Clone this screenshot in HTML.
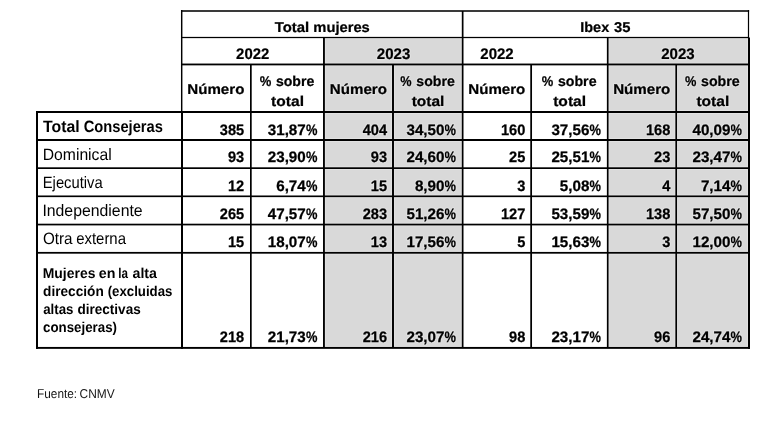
<!DOCTYPE html>
<html><head><meta charset="utf-8"><title>Tabla</title>
<style>
html,body{margin:0;padding:0;background:#fff;}
body{width:775px;height:421px;overflow:hidden;}
svg{display:block;font-family:"Liberation Sans",sans-serif;will-change:transform;text-rendering:geometricPrecision;}
</style></head><body>
<svg width="775" height="421" viewBox="0 0 775 421">
<rect width="775" height="421" fill="#fff"/>
<rect x="323.95" y="37.50" width="138.70" height="310.40" fill="#d9d9d9"/>
<rect x="324.88" y="37.50" width="1.00" height="310.40" fill="#e1e1e1"/>
<rect x="391.02" y="64.45" width="1.00" height="283.45" fill="#e1e1e1"/>
<rect x="393.98" y="64.45" width="1.00" height="283.45" fill="#e1e1e1"/>
<rect x="460.80" y="37.50" width="1.00" height="310.40" fill="#e1e1e1"/>
<rect x="323.95" y="38.12" width="138.70" height="1.00" fill="#e1e1e1"/>
<rect x="323.95" y="62.55" width="138.70" height="1.00" fill="#e1e1e1"/>
<rect x="323.95" y="65.35" width="138.70" height="1.00" fill="#e1e1e1"/>
<rect x="323.95" y="110.00" width="138.70" height="1.00" fill="#e1e1e1"/>
<rect x="323.95" y="113.00" width="138.70" height="1.00" fill="#e1e1e1"/>
<rect x="323.95" y="138.00" width="138.70" height="1.00" fill="#e1e1e1"/>
<rect x="323.95" y="141.00" width="138.70" height="1.00" fill="#e1e1e1"/>
<rect x="323.95" y="166.30" width="138.70" height="1.00" fill="#e1e1e1"/>
<rect x="323.95" y="169.00" width="138.70" height="1.00" fill="#e1e1e1"/>
<rect x="323.95" y="194.48" width="138.70" height="1.00" fill="#e1e1e1"/>
<rect x="323.95" y="197.12" width="138.70" height="1.00" fill="#e1e1e1"/>
<rect x="323.95" y="222.70" width="138.70" height="1.00" fill="#e1e1e1"/>
<rect x="323.95" y="225.40" width="138.70" height="1.00" fill="#e1e1e1"/>
<rect x="323.95" y="250.93" width="138.70" height="1.00" fill="#e1e1e1"/>
<rect x="323.95" y="253.68" width="138.70" height="1.00" fill="#e1e1e1"/>
<rect x="323.95" y="345.95" width="138.70" height="1.00" fill="#e1e1e1"/>
<rect x="607.70" y="37.50" width="141.30" height="310.40" fill="#d9d9d9"/>
<rect x="608.53" y="37.50" width="1.00" height="310.40" fill="#e1e1e1"/>
<rect x="674.38" y="64.45" width="1.00" height="283.45" fill="#e1e1e1"/>
<rect x="677.03" y="64.45" width="1.00" height="283.45" fill="#e1e1e1"/>
<rect x="747.00" y="37.50" width="1.00" height="310.40" fill="#e1e1e1"/>
<rect x="607.70" y="38.12" width="141.30" height="1.00" fill="#e1e1e1"/>
<rect x="607.70" y="62.55" width="141.30" height="1.00" fill="#e1e1e1"/>
<rect x="607.70" y="65.35" width="141.30" height="1.00" fill="#e1e1e1"/>
<rect x="607.70" y="110.00" width="141.30" height="1.00" fill="#e1e1e1"/>
<rect x="607.70" y="113.00" width="141.30" height="1.00" fill="#e1e1e1"/>
<rect x="607.70" y="138.00" width="141.30" height="1.00" fill="#e1e1e1"/>
<rect x="607.70" y="141.00" width="141.30" height="1.00" fill="#e1e1e1"/>
<rect x="607.70" y="166.30" width="141.30" height="1.00" fill="#e1e1e1"/>
<rect x="607.70" y="169.00" width="141.30" height="1.00" fill="#e1e1e1"/>
<rect x="607.70" y="194.48" width="141.30" height="1.00" fill="#e1e1e1"/>
<rect x="607.70" y="197.12" width="141.30" height="1.00" fill="#e1e1e1"/>
<rect x="607.70" y="222.70" width="141.30" height="1.00" fill="#e1e1e1"/>
<rect x="607.70" y="225.40" width="141.30" height="1.00" fill="#e1e1e1"/>
<rect x="607.70" y="250.93" width="141.30" height="1.00" fill="#e1e1e1"/>
<rect x="607.70" y="253.68" width="141.30" height="1.00" fill="#e1e1e1"/>
<rect x="607.70" y="345.95" width="141.30" height="1.00" fill="#e1e1e1"/>
<rect x="181.00" y="10.00" width="568.10" height="2.00" fill="#3a3a3a"/>
<rect x="182.00" y="36.88" width="567.00" height="1.25" fill="#000"/>
<rect x="182.00" y="63.55" width="567.00" height="1.80" fill="#000"/>
<rect x="36.00" y="111.00" width="714.00" height="2.00" fill="#000"/>
<rect x="36.00" y="139.00" width="714.00" height="2.00" fill="#000"/>
<rect x="36.00" y="167.30" width="714.00" height="1.70" fill="#000"/>
<rect x="36.00" y="195.48" width="714.00" height="1.65" fill="#000"/>
<rect x="36.00" y="223.70" width="714.00" height="1.70" fill="#000"/>
<rect x="36.00" y="251.93" width="714.00" height="1.75" fill="#000"/>
<rect x="36.00" y="346.95" width="714.00" height="1.90" fill="#000"/>
<rect x="36.00" y="111.00" width="2.00" height="237.85" fill="#000"/>
<rect x="180.97" y="10.00" width="1.45" height="102.00" fill="#000"/>
<rect x="181.00" y="112.00" width="2.00" height="236.85" fill="#000"/>
<rect x="461.80" y="11.00" width="1.70" height="336.90" fill="#000"/>
<rect x="747.90" y="10.00" width="1.20" height="27.50" fill="#000"/>
<rect x="748.00" y="37.50" width="2.00" height="311.35" fill="#000"/>
<rect x="323.02" y="37.50" width="1.85" height="310.40" fill="#000"/>
<rect x="606.88" y="37.50" width="1.65" height="310.40" fill="#000"/>
<rect x="250.00" y="64.45" width="1.70" height="283.45" fill="#000"/>
<rect x="392.02" y="64.45" width="1.95" height="283.45" fill="#000"/>
<rect x="530.27" y="64.45" width="1.75" height="283.45" fill="#000"/>
<rect x="675.38" y="64.45" width="1.65" height="283.45" fill="#000"/>
<text x="274.69" y="31.70" font-size="14.2" font-weight="bold" text-anchor="start" fill="#000" textLength="34.47" lengthAdjust="spacingAndGlyphs" stroke="#000" stroke-width="0.22">Total</text>
<text x="313.33" y="31.70" font-size="14.2" font-weight="bold" text-anchor="start" fill="#000" textLength="56.48" lengthAdjust="spacingAndGlyphs" stroke="#000" stroke-width="0.22">mujeres</text>
<text x="580.28" y="31.80" font-size="14.2" font-weight="bold" text-anchor="start" fill="#000" textLength="28.92" lengthAdjust="spacingAndGlyphs" stroke="#000" stroke-width="0.22">Ibex</text>
<text x="614.05" y="31.80" font-size="14.2" font-weight="bold" text-anchor="start" fill="#000" textLength="16.40" lengthAdjust="spacingAndGlyphs" stroke="#000" stroke-width="0.22">35</text>
<text x="236.11" y="58.90" font-size="15.4" font-weight="bold" text-anchor="start" fill="#000" textLength="33.11" lengthAdjust="spacingAndGlyphs" stroke="#000" stroke-width="0.22">2022</text>
<text x="376.84" y="58.90" font-size="15.4" font-weight="bold" text-anchor="start" fill="#e1e1e1" stroke="#e1e1e1" stroke-width="2.4" stroke-linejoin="round" textLength="33.47" lengthAdjust="spacingAndGlyphs">2023</text>
<text x="376.84" y="58.90" font-size="15.4" font-weight="bold" text-anchor="start" fill="#000" textLength="33.47" lengthAdjust="spacingAndGlyphs" stroke="#000" stroke-width="0.22">2023</text>
<text x="480.32" y="58.90" font-size="15.4" font-weight="bold" text-anchor="start" fill="#000" textLength="33.41" lengthAdjust="spacingAndGlyphs" stroke="#000" stroke-width="0.22">2022</text>
<text x="661.22" y="58.90" font-size="15.4" font-weight="bold" text-anchor="start" fill="#e1e1e1" stroke="#e1e1e1" stroke-width="2.4" stroke-linejoin="round" textLength="33.47" lengthAdjust="spacingAndGlyphs">2023</text>
<text x="661.22" y="58.90" font-size="15.4" font-weight="bold" text-anchor="start" fill="#000" textLength="33.47" lengthAdjust="spacingAndGlyphs" stroke="#000" stroke-width="0.22">2023</text>
<text x="187.35" y="93.90" font-size="14.2" font-weight="bold" text-anchor="start" fill="#000" textLength="57.01" lengthAdjust="spacingAndGlyphs" stroke="#000" stroke-width="0.22">Número</text>
<text x="259.77" y="86.00" font-size="14.2" font-weight="bold" text-anchor="start" fill="#000" textLength="11.58" lengthAdjust="spacingAndGlyphs" stroke="#000" stroke-width="0.22">%</text>
<text x="275.89" y="86.00" font-size="14.2" font-weight="bold" text-anchor="start" fill="#000" textLength="38.46" lengthAdjust="spacingAndGlyphs" stroke="#000" stroke-width="0.22">sobre</text>
<text x="271.14" y="106.40" font-size="14.2" font-weight="bold" text-anchor="start" fill="#000" textLength="32.83" lengthAdjust="spacingAndGlyphs" stroke="#000" stroke-width="0.22">total</text>
<text x="329.88" y="93.90" font-size="14.2" font-weight="bold" text-anchor="start" fill="#e1e1e1" stroke="#e1e1e1" stroke-width="2.4" stroke-linejoin="round" textLength="57.08" lengthAdjust="spacingAndGlyphs">Número</text>
<text x="329.88" y="93.90" font-size="14.2" font-weight="bold" text-anchor="start" fill="#000" textLength="57.08" lengthAdjust="spacingAndGlyphs" stroke="#000" stroke-width="0.22">Número</text>
<text x="400.26" y="86.00" font-size="14.2" font-weight="bold" text-anchor="start" fill="#e1e1e1" stroke="#e1e1e1" stroke-width="2.4" stroke-linejoin="round" textLength="11.33" lengthAdjust="spacingAndGlyphs">%</text>
<text x="400.26" y="86.00" font-size="14.2" font-weight="bold" text-anchor="start" fill="#000" textLength="11.33" lengthAdjust="spacingAndGlyphs" stroke="#000" stroke-width="0.22">%</text>
<text x="416.31" y="86.00" font-size="14.2" font-weight="bold" text-anchor="start" fill="#e1e1e1" stroke="#e1e1e1" stroke-width="2.4" stroke-linejoin="round" textLength="38.45" lengthAdjust="spacingAndGlyphs">sobre</text>
<text x="416.31" y="86.00" font-size="14.2" font-weight="bold" text-anchor="start" fill="#000" textLength="38.45" lengthAdjust="spacingAndGlyphs" stroke="#000" stroke-width="0.22">sobre</text>
<text x="411.71" y="106.40" font-size="14.2" font-weight="bold" text-anchor="start" fill="#e1e1e1" stroke="#e1e1e1" stroke-width="2.4" stroke-linejoin="round" textLength="32.71" lengthAdjust="spacingAndGlyphs">total</text>
<text x="411.71" y="106.40" font-size="14.2" font-weight="bold" text-anchor="start" fill="#000" textLength="32.71" lengthAdjust="spacingAndGlyphs" stroke="#000" stroke-width="0.22">total</text>
<text x="468.32" y="93.90" font-size="14.2" font-weight="bold" text-anchor="start" fill="#000" textLength="57.02" lengthAdjust="spacingAndGlyphs" stroke="#000" stroke-width="0.22">Número</text>
<text x="541.76" y="86.00" font-size="14.2" font-weight="bold" text-anchor="start" fill="#000" textLength="11.50" lengthAdjust="spacingAndGlyphs" stroke="#000" stroke-width="0.22">%</text>
<text x="557.91" y="86.00" font-size="14.2" font-weight="bold" text-anchor="start" fill="#000" textLength="38.61" lengthAdjust="spacingAndGlyphs" stroke="#000" stroke-width="0.22">sobre</text>
<text x="553.17" y="106.40" font-size="14.2" font-weight="bold" text-anchor="start" fill="#000" textLength="32.94" lengthAdjust="spacingAndGlyphs" stroke="#000" stroke-width="0.22">total</text>
<text x="613.15" y="93.90" font-size="14.2" font-weight="bold" text-anchor="start" fill="#e1e1e1" stroke="#e1e1e1" stroke-width="2.4" stroke-linejoin="round" textLength="57.23" lengthAdjust="spacingAndGlyphs">Número</text>
<text x="613.15" y="93.90" font-size="14.2" font-weight="bold" text-anchor="start" fill="#000" textLength="57.23" lengthAdjust="spacingAndGlyphs" stroke="#000" stroke-width="0.22">Número</text>
<text x="684.94" y="86.00" font-size="14.2" font-weight="bold" text-anchor="start" fill="#e1e1e1" stroke="#e1e1e1" stroke-width="2.4" stroke-linejoin="round" textLength="11.39" lengthAdjust="spacingAndGlyphs">%</text>
<text x="684.94" y="86.00" font-size="14.2" font-weight="bold" text-anchor="start" fill="#000" textLength="11.39" lengthAdjust="spacingAndGlyphs" stroke="#000" stroke-width="0.22">%</text>
<text x="701.00" y="86.00" font-size="14.2" font-weight="bold" text-anchor="start" fill="#e1e1e1" stroke="#e1e1e1" stroke-width="2.4" stroke-linejoin="round" textLength="38.73" lengthAdjust="spacingAndGlyphs">sobre</text>
<text x="701.00" y="86.00" font-size="14.2" font-weight="bold" text-anchor="start" fill="#000" textLength="38.73" lengthAdjust="spacingAndGlyphs" stroke="#000" stroke-width="0.22">sobre</text>
<text x="696.45" y="106.40" font-size="14.2" font-weight="bold" text-anchor="start" fill="#e1e1e1" stroke="#e1e1e1" stroke-width="2.4" stroke-linejoin="round" textLength="32.83" lengthAdjust="spacingAndGlyphs">total</text>
<text x="696.45" y="106.40" font-size="14.2" font-weight="bold" text-anchor="start" fill="#000" textLength="32.83" lengthAdjust="spacingAndGlyphs" stroke="#000" stroke-width="0.22">total</text>
<text x="43.11" y="131.90" font-size="16.4" font-weight="bold" text-anchor="start" fill="#000" textLength="36.61" lengthAdjust="spacingAndGlyphs">Total</text>
<text x="83.69" y="131.90" font-size="16.4" font-weight="bold" text-anchor="start" fill="#000" textLength="79.22" lengthAdjust="spacingAndGlyphs">Consejeras</text>
<text x="42.71" y="160.00" font-size="16.5" font-weight="normal" text-anchor="start" fill="#000" textLength="69.00" lengthAdjust="spacingAndGlyphs">Dominical</text>
<text x="42.78" y="188.20" font-size="16.5" font-weight="normal" text-anchor="start" fill="#000" textLength="59.92" lengthAdjust="spacingAndGlyphs">Ejecutiva</text>
<text x="42.39" y="216.10" font-size="16.5" font-weight="normal" text-anchor="start" fill="#000" textLength="100.29" lengthAdjust="spacingAndGlyphs">Independiente</text>
<text x="42.96" y="244.20" font-size="16.5" font-weight="normal" text-anchor="start" fill="#000" textLength="29.60" lengthAdjust="spacingAndGlyphs">Otra</text>
<text x="76.17" y="244.20" font-size="16.5" font-weight="normal" text-anchor="start" fill="#000" textLength="49.83" lengthAdjust="spacingAndGlyphs">externa</text>
<text x="42.74" y="277.80" font-size="14.3" font-weight="bold" text-anchor="start" fill="#000" textLength="52.70" lengthAdjust="spacingAndGlyphs">Mujeres</text>
<text x="98.74" y="277.80" font-size="14.3" font-weight="bold" text-anchor="start" fill="#000" textLength="16.66" lengthAdjust="spacingAndGlyphs">en</text>
<text x="118.34" y="277.80" font-size="14.3" font-weight="bold" text-anchor="start" fill="#000" textLength="9.72" lengthAdjust="spacingAndGlyphs">la</text>
<text x="132.51" y="277.80" font-size="14.3" font-weight="bold" text-anchor="start" fill="#000" textLength="24.45" lengthAdjust="spacingAndGlyphs">alta</text>
<text x="43.09" y="295.80" font-size="14.3" font-weight="bold" text-anchor="start" fill="#000" textLength="60.66" lengthAdjust="spacingAndGlyphs">dirección</text>
<text x="107.65" y="295.80" font-size="14.3" font-weight="bold" text-anchor="start" fill="#000" textLength="64.74" lengthAdjust="spacingAndGlyphs">(excluidas</text>
<text x="43.19" y="313.90" font-size="14.3" font-weight="bold" text-anchor="start" fill="#000" textLength="30.31" lengthAdjust="spacingAndGlyphs">altas</text>
<text x="77.44" y="313.90" font-size="14.3" font-weight="bold" text-anchor="start" fill="#000" textLength="63.29" lengthAdjust="spacingAndGlyphs">directivas</text>
<text x="43.06" y="332.00" font-size="14.3" font-weight="bold" text-anchor="start" fill="#000" textLength="73.96" lengthAdjust="spacingAndGlyphs">consejeras)</text>
<text x="37.04" y="398.10" font-size="12.9" font-weight="normal" text-anchor="start" fill="#151515" textLength="40.05" lengthAdjust="spacingAndGlyphs">Fuente:</text>
<text x="79.56" y="398.10" font-size="12.9" font-weight="normal" text-anchor="start" fill="#151515" textLength="35.07" lengthAdjust="spacingAndGlyphs">CNMV</text>
<text transform="translate(244.20 134.50) scale(0.9620 1)" font-size="15.2" font-weight="bold" text-anchor="end" stroke="#000" stroke-width="0.25">385</text>
<text transform="translate(317.35 134.50) scale(0.8466 1)" font-size="15.2" font-weight="bold" text-anchor="end" stroke="#000" stroke-width="0.25">%</text>
<text transform="translate(305.76 134.50) scale(1.0000 1)" font-size="15.2" font-weight="bold" text-anchor="end" stroke="#000" stroke-width="0.25">31,87</text>
<text transform="translate(387.10 134.50) scale(0.9620 1)" font-size="15.2" font-weight="bold" text-anchor="end" fill="#e1e1e1" stroke="#e1e1e1" stroke-width="2.4" stroke-linejoin="round">404</text>
<text transform="translate(387.10 134.50) scale(0.9620 1)" font-size="15.2" font-weight="bold" text-anchor="end" stroke="#000" stroke-width="0.25">404</text>
<text transform="translate(456.05 134.50) scale(0.8466 1)" font-size="15.2" font-weight="bold" text-anchor="end" fill="#e1e1e1" stroke="#e1e1e1" stroke-width="2.4" stroke-linejoin="round">%</text>
<text transform="translate(456.05 134.50) scale(0.8466 1)" font-size="15.2" font-weight="bold" text-anchor="end" stroke="#000" stroke-width="0.25">%</text>
<text transform="translate(444.46 134.50) scale(1.0000 1)" font-size="15.2" font-weight="bold" text-anchor="end" fill="#e1e1e1" stroke="#e1e1e1" stroke-width="2.4" stroke-linejoin="round">34,50</text>
<text transform="translate(444.46 134.50) scale(1.0000 1)" font-size="15.2" font-weight="bold" text-anchor="end" stroke="#000" stroke-width="0.25">34,50</text>
<text transform="translate(525.35 134.50) scale(0.9620 1)" font-size="15.2" font-weight="bold" text-anchor="end" stroke="#000" stroke-width="0.25">160</text>
<text transform="translate(601.00 134.50) scale(0.8466 1)" font-size="15.2" font-weight="bold" text-anchor="end" stroke="#000" stroke-width="0.25">%</text>
<text transform="translate(589.41 134.50) scale(1.0000 1)" font-size="15.2" font-weight="bold" text-anchor="end" stroke="#000" stroke-width="0.25">37,56</text>
<text transform="translate(670.35 134.50) scale(0.9620 1)" font-size="15.2" font-weight="bold" text-anchor="end" fill="#e1e1e1" stroke="#e1e1e1" stroke-width="2.4" stroke-linejoin="round">168</text>
<text transform="translate(670.35 134.50) scale(0.9620 1)" font-size="15.2" font-weight="bold" text-anchor="end" stroke="#000" stroke-width="0.25">168</text>
<text transform="translate(742.05 134.50) scale(0.8466 1)" font-size="15.2" font-weight="bold" text-anchor="end" fill="#e1e1e1" stroke="#e1e1e1" stroke-width="2.4" stroke-linejoin="round">%</text>
<text transform="translate(742.05 134.50) scale(0.8466 1)" font-size="15.2" font-weight="bold" text-anchor="end" stroke="#000" stroke-width="0.25">%</text>
<text transform="translate(730.46 134.50) scale(1.0000 1)" font-size="15.2" font-weight="bold" text-anchor="end" fill="#e1e1e1" stroke="#e1e1e1" stroke-width="2.4" stroke-linejoin="round">40,09</text>
<text transform="translate(730.46 134.50) scale(1.0000 1)" font-size="15.2" font-weight="bold" text-anchor="end" stroke="#000" stroke-width="0.25">40,09</text>
<text transform="translate(244.20 162.20) scale(0.9620 1)" font-size="15.2" font-weight="bold" text-anchor="end" stroke="#000" stroke-width="0.25">93</text>
<text transform="translate(317.35 162.20) scale(0.8466 1)" font-size="15.2" font-weight="bold" text-anchor="end" stroke="#000" stroke-width="0.25">%</text>
<text transform="translate(305.76 162.20) scale(1.0000 1)" font-size="15.2" font-weight="bold" text-anchor="end" stroke="#000" stroke-width="0.25">23,90</text>
<text transform="translate(387.10 162.20) scale(0.9620 1)" font-size="15.2" font-weight="bold" text-anchor="end" fill="#e1e1e1" stroke="#e1e1e1" stroke-width="2.4" stroke-linejoin="round">93</text>
<text transform="translate(387.10 162.20) scale(0.9620 1)" font-size="15.2" font-weight="bold" text-anchor="end" stroke="#000" stroke-width="0.25">93</text>
<text transform="translate(456.05 162.20) scale(0.8466 1)" font-size="15.2" font-weight="bold" text-anchor="end" fill="#e1e1e1" stroke="#e1e1e1" stroke-width="2.4" stroke-linejoin="round">%</text>
<text transform="translate(456.05 162.20) scale(0.8466 1)" font-size="15.2" font-weight="bold" text-anchor="end" stroke="#000" stroke-width="0.25">%</text>
<text transform="translate(444.46 162.20) scale(1.0000 1)" font-size="15.2" font-weight="bold" text-anchor="end" fill="#e1e1e1" stroke="#e1e1e1" stroke-width="2.4" stroke-linejoin="round">24,60</text>
<text transform="translate(444.46 162.20) scale(1.0000 1)" font-size="15.2" font-weight="bold" text-anchor="end" stroke="#000" stroke-width="0.25">24,60</text>
<text transform="translate(525.35 162.20) scale(0.9620 1)" font-size="15.2" font-weight="bold" text-anchor="end" stroke="#000" stroke-width="0.25">25</text>
<text transform="translate(601.00 162.20) scale(0.8466 1)" font-size="15.2" font-weight="bold" text-anchor="end" stroke="#000" stroke-width="0.25">%</text>
<text transform="translate(589.41 162.20) scale(1.0000 1)" font-size="15.2" font-weight="bold" text-anchor="end" stroke="#000" stroke-width="0.25">25,51</text>
<text transform="translate(670.35 162.20) scale(0.9620 1)" font-size="15.2" font-weight="bold" text-anchor="end" fill="#e1e1e1" stroke="#e1e1e1" stroke-width="2.4" stroke-linejoin="round">23</text>
<text transform="translate(670.35 162.20) scale(0.9620 1)" font-size="15.2" font-weight="bold" text-anchor="end" stroke="#000" stroke-width="0.25">23</text>
<text transform="translate(742.05 162.20) scale(0.8466 1)" font-size="15.2" font-weight="bold" text-anchor="end" fill="#e1e1e1" stroke="#e1e1e1" stroke-width="2.4" stroke-linejoin="round">%</text>
<text transform="translate(742.05 162.20) scale(0.8466 1)" font-size="15.2" font-weight="bold" text-anchor="end" stroke="#000" stroke-width="0.25">%</text>
<text transform="translate(730.46 162.20) scale(1.0000 1)" font-size="15.2" font-weight="bold" text-anchor="end" fill="#e1e1e1" stroke="#e1e1e1" stroke-width="2.4" stroke-linejoin="round">23,47</text>
<text transform="translate(730.46 162.20) scale(1.0000 1)" font-size="15.2" font-weight="bold" text-anchor="end" stroke="#000" stroke-width="0.25">23,47</text>
<text transform="translate(244.20 190.60) scale(0.9620 1)" font-size="15.2" font-weight="bold" text-anchor="end" stroke="#000" stroke-width="0.25">12</text>
<text transform="translate(317.35 190.60) scale(0.8466 1)" font-size="15.2" font-weight="bold" text-anchor="end" stroke="#000" stroke-width="0.25">%</text>
<text transform="translate(305.76 190.60) scale(1.0000 1)" font-size="15.2" font-weight="bold" text-anchor="end" stroke="#000" stroke-width="0.25">6,74</text>
<text transform="translate(387.10 190.60) scale(0.9620 1)" font-size="15.2" font-weight="bold" text-anchor="end" fill="#e1e1e1" stroke="#e1e1e1" stroke-width="2.4" stroke-linejoin="round">15</text>
<text transform="translate(387.10 190.60) scale(0.9620 1)" font-size="15.2" font-weight="bold" text-anchor="end" stroke="#000" stroke-width="0.25">15</text>
<text transform="translate(456.05 190.60) scale(0.8466 1)" font-size="15.2" font-weight="bold" text-anchor="end" fill="#e1e1e1" stroke="#e1e1e1" stroke-width="2.4" stroke-linejoin="round">%</text>
<text transform="translate(456.05 190.60) scale(0.8466 1)" font-size="15.2" font-weight="bold" text-anchor="end" stroke="#000" stroke-width="0.25">%</text>
<text transform="translate(444.46 190.60) scale(1.0000 1)" font-size="15.2" font-weight="bold" text-anchor="end" fill="#e1e1e1" stroke="#e1e1e1" stroke-width="2.4" stroke-linejoin="round">8,90</text>
<text transform="translate(444.46 190.60) scale(1.0000 1)" font-size="15.2" font-weight="bold" text-anchor="end" stroke="#000" stroke-width="0.25">8,90</text>
<text transform="translate(525.35 190.60) scale(0.9620 1)" font-size="15.2" font-weight="bold" text-anchor="end" stroke="#000" stroke-width="0.25">3</text>
<text transform="translate(601.00 190.60) scale(0.8466 1)" font-size="15.2" font-weight="bold" text-anchor="end" stroke="#000" stroke-width="0.25">%</text>
<text transform="translate(589.41 190.60) scale(1.0000 1)" font-size="15.2" font-weight="bold" text-anchor="end" stroke="#000" stroke-width="0.25">5,08</text>
<text transform="translate(670.35 190.60) scale(0.9620 1)" font-size="15.2" font-weight="bold" text-anchor="end" fill="#e1e1e1" stroke="#e1e1e1" stroke-width="2.4" stroke-linejoin="round">4</text>
<text transform="translate(670.35 190.60) scale(0.9620 1)" font-size="15.2" font-weight="bold" text-anchor="end" stroke="#000" stroke-width="0.25">4</text>
<text transform="translate(742.05 190.60) scale(0.8466 1)" font-size="15.2" font-weight="bold" text-anchor="end" fill="#e1e1e1" stroke="#e1e1e1" stroke-width="2.4" stroke-linejoin="round">%</text>
<text transform="translate(742.05 190.60) scale(0.8466 1)" font-size="15.2" font-weight="bold" text-anchor="end" stroke="#000" stroke-width="0.25">%</text>
<text transform="translate(730.46 190.60) scale(1.0000 1)" font-size="15.2" font-weight="bold" text-anchor="end" fill="#e1e1e1" stroke="#e1e1e1" stroke-width="2.4" stroke-linejoin="round">7,14</text>
<text transform="translate(730.46 190.60) scale(1.0000 1)" font-size="15.2" font-weight="bold" text-anchor="end" stroke="#000" stroke-width="0.25">7,14</text>
<text transform="translate(244.20 219.00) scale(0.9620 1)" font-size="15.2" font-weight="bold" text-anchor="end" stroke="#000" stroke-width="0.25">265</text>
<text transform="translate(317.35 219.00) scale(0.8466 1)" font-size="15.2" font-weight="bold" text-anchor="end" stroke="#000" stroke-width="0.25">%</text>
<text transform="translate(305.76 219.00) scale(1.0000 1)" font-size="15.2" font-weight="bold" text-anchor="end" stroke="#000" stroke-width="0.25">47,57</text>
<text transform="translate(387.10 219.00) scale(0.9620 1)" font-size="15.2" font-weight="bold" text-anchor="end" fill="#e1e1e1" stroke="#e1e1e1" stroke-width="2.4" stroke-linejoin="round">283</text>
<text transform="translate(387.10 219.00) scale(0.9620 1)" font-size="15.2" font-weight="bold" text-anchor="end" stroke="#000" stroke-width="0.25">283</text>
<text transform="translate(456.05 219.00) scale(0.8466 1)" font-size="15.2" font-weight="bold" text-anchor="end" fill="#e1e1e1" stroke="#e1e1e1" stroke-width="2.4" stroke-linejoin="round">%</text>
<text transform="translate(456.05 219.00) scale(0.8466 1)" font-size="15.2" font-weight="bold" text-anchor="end" stroke="#000" stroke-width="0.25">%</text>
<text transform="translate(444.46 219.00) scale(1.0000 1)" font-size="15.2" font-weight="bold" text-anchor="end" fill="#e1e1e1" stroke="#e1e1e1" stroke-width="2.4" stroke-linejoin="round">51,26</text>
<text transform="translate(444.46 219.00) scale(1.0000 1)" font-size="15.2" font-weight="bold" text-anchor="end" stroke="#000" stroke-width="0.25">51,26</text>
<text transform="translate(525.35 219.00) scale(0.9620 1)" font-size="15.2" font-weight="bold" text-anchor="end" stroke="#000" stroke-width="0.25">127</text>
<text transform="translate(601.00 219.00) scale(0.8466 1)" font-size="15.2" font-weight="bold" text-anchor="end" stroke="#000" stroke-width="0.25">%</text>
<text transform="translate(589.41 219.00) scale(1.0000 1)" font-size="15.2" font-weight="bold" text-anchor="end" stroke="#000" stroke-width="0.25">53,59</text>
<text transform="translate(670.35 219.00) scale(0.9620 1)" font-size="15.2" font-weight="bold" text-anchor="end" fill="#e1e1e1" stroke="#e1e1e1" stroke-width="2.4" stroke-linejoin="round">138</text>
<text transform="translate(670.35 219.00) scale(0.9620 1)" font-size="15.2" font-weight="bold" text-anchor="end" stroke="#000" stroke-width="0.25">138</text>
<text transform="translate(742.05 219.00) scale(0.8466 1)" font-size="15.2" font-weight="bold" text-anchor="end" fill="#e1e1e1" stroke="#e1e1e1" stroke-width="2.4" stroke-linejoin="round">%</text>
<text transform="translate(742.05 219.00) scale(0.8466 1)" font-size="15.2" font-weight="bold" text-anchor="end" stroke="#000" stroke-width="0.25">%</text>
<text transform="translate(730.46 219.00) scale(1.0000 1)" font-size="15.2" font-weight="bold" text-anchor="end" fill="#e1e1e1" stroke="#e1e1e1" stroke-width="2.4" stroke-linejoin="round">57,50</text>
<text transform="translate(730.46 219.00) scale(1.0000 1)" font-size="15.2" font-weight="bold" text-anchor="end" stroke="#000" stroke-width="0.25">57,50</text>
<text transform="translate(244.20 247.10) scale(0.9620 1)" font-size="15.2" font-weight="bold" text-anchor="end" stroke="#000" stroke-width="0.25">15</text>
<text transform="translate(317.35 247.10) scale(0.8466 1)" font-size="15.2" font-weight="bold" text-anchor="end" stroke="#000" stroke-width="0.25">%</text>
<text transform="translate(305.76 247.10) scale(1.0000 1)" font-size="15.2" font-weight="bold" text-anchor="end" stroke="#000" stroke-width="0.25">18,07</text>
<text transform="translate(387.10 247.10) scale(0.9620 1)" font-size="15.2" font-weight="bold" text-anchor="end" fill="#e1e1e1" stroke="#e1e1e1" stroke-width="2.4" stroke-linejoin="round">13</text>
<text transform="translate(387.10 247.10) scale(0.9620 1)" font-size="15.2" font-weight="bold" text-anchor="end" stroke="#000" stroke-width="0.25">13</text>
<text transform="translate(456.05 247.10) scale(0.8466 1)" font-size="15.2" font-weight="bold" text-anchor="end" fill="#e1e1e1" stroke="#e1e1e1" stroke-width="2.4" stroke-linejoin="round">%</text>
<text transform="translate(456.05 247.10) scale(0.8466 1)" font-size="15.2" font-weight="bold" text-anchor="end" stroke="#000" stroke-width="0.25">%</text>
<text transform="translate(444.46 247.10) scale(1.0000 1)" font-size="15.2" font-weight="bold" text-anchor="end" fill="#e1e1e1" stroke="#e1e1e1" stroke-width="2.4" stroke-linejoin="round">17,56</text>
<text transform="translate(444.46 247.10) scale(1.0000 1)" font-size="15.2" font-weight="bold" text-anchor="end" stroke="#000" stroke-width="0.25">17,56</text>
<text transform="translate(525.35 247.10) scale(0.9620 1)" font-size="15.2" font-weight="bold" text-anchor="end" stroke="#000" stroke-width="0.25">5</text>
<text transform="translate(601.00 247.10) scale(0.8466 1)" font-size="15.2" font-weight="bold" text-anchor="end" stroke="#000" stroke-width="0.25">%</text>
<text transform="translate(589.41 247.10) scale(1.0000 1)" font-size="15.2" font-weight="bold" text-anchor="end" stroke="#000" stroke-width="0.25">15,63</text>
<text transform="translate(670.35 247.10) scale(0.9620 1)" font-size="15.2" font-weight="bold" text-anchor="end" fill="#e1e1e1" stroke="#e1e1e1" stroke-width="2.4" stroke-linejoin="round">3</text>
<text transform="translate(670.35 247.10) scale(0.9620 1)" font-size="15.2" font-weight="bold" text-anchor="end" stroke="#000" stroke-width="0.25">3</text>
<text transform="translate(742.05 247.10) scale(0.8466 1)" font-size="15.2" font-weight="bold" text-anchor="end" fill="#e1e1e1" stroke="#e1e1e1" stroke-width="2.4" stroke-linejoin="round">%</text>
<text transform="translate(742.05 247.10) scale(0.8466 1)" font-size="15.2" font-weight="bold" text-anchor="end" stroke="#000" stroke-width="0.25">%</text>
<text transform="translate(730.46 247.10) scale(1.0000 1)" font-size="15.2" font-weight="bold" text-anchor="end" fill="#e1e1e1" stroke="#e1e1e1" stroke-width="2.4" stroke-linejoin="round">12,00</text>
<text transform="translate(730.46 247.10) scale(1.0000 1)" font-size="15.2" font-weight="bold" text-anchor="end" stroke="#000" stroke-width="0.25">12,00</text>
<text transform="translate(244.20 342.40) scale(0.9620 1)" font-size="15.2" font-weight="bold" text-anchor="end" stroke="#000" stroke-width="0.25">218</text>
<text transform="translate(317.35 342.40) scale(0.8466 1)" font-size="15.2" font-weight="bold" text-anchor="end" stroke="#000" stroke-width="0.25">%</text>
<text transform="translate(305.76 342.40) scale(1.0000 1)" font-size="15.2" font-weight="bold" text-anchor="end" stroke="#000" stroke-width="0.25">21,73</text>
<text transform="translate(387.10 342.40) scale(0.9620 1)" font-size="15.2" font-weight="bold" text-anchor="end" fill="#e1e1e1" stroke="#e1e1e1" stroke-width="2.4" stroke-linejoin="round">216</text>
<text transform="translate(387.10 342.40) scale(0.9620 1)" font-size="15.2" font-weight="bold" text-anchor="end" stroke="#000" stroke-width="0.25">216</text>
<text transform="translate(456.05 342.40) scale(0.8466 1)" font-size="15.2" font-weight="bold" text-anchor="end" fill="#e1e1e1" stroke="#e1e1e1" stroke-width="2.4" stroke-linejoin="round">%</text>
<text transform="translate(456.05 342.40) scale(0.8466 1)" font-size="15.2" font-weight="bold" text-anchor="end" stroke="#000" stroke-width="0.25">%</text>
<text transform="translate(444.46 342.40) scale(1.0000 1)" font-size="15.2" font-weight="bold" text-anchor="end" fill="#e1e1e1" stroke="#e1e1e1" stroke-width="2.4" stroke-linejoin="round">23,07</text>
<text transform="translate(444.46 342.40) scale(1.0000 1)" font-size="15.2" font-weight="bold" text-anchor="end" stroke="#000" stroke-width="0.25">23,07</text>
<text transform="translate(525.35 342.40) scale(0.9620 1)" font-size="15.2" font-weight="bold" text-anchor="end" stroke="#000" stroke-width="0.25">98</text>
<text transform="translate(601.00 342.40) scale(0.8466 1)" font-size="15.2" font-weight="bold" text-anchor="end" stroke="#000" stroke-width="0.25">%</text>
<text transform="translate(589.41 342.40) scale(1.0000 1)" font-size="15.2" font-weight="bold" text-anchor="end" stroke="#000" stroke-width="0.25">23,17</text>
<text transform="translate(670.35 342.40) scale(0.9620 1)" font-size="15.2" font-weight="bold" text-anchor="end" fill="#e1e1e1" stroke="#e1e1e1" stroke-width="2.4" stroke-linejoin="round">96</text>
<text transform="translate(670.35 342.40) scale(0.9620 1)" font-size="15.2" font-weight="bold" text-anchor="end" stroke="#000" stroke-width="0.25">96</text>
<text transform="translate(742.05 342.40) scale(0.8466 1)" font-size="15.2" font-weight="bold" text-anchor="end" fill="#e1e1e1" stroke="#e1e1e1" stroke-width="2.4" stroke-linejoin="round">%</text>
<text transform="translate(742.05 342.40) scale(0.8466 1)" font-size="15.2" font-weight="bold" text-anchor="end" stroke="#000" stroke-width="0.25">%</text>
<text transform="translate(730.46 342.40) scale(1.0000 1)" font-size="15.2" font-weight="bold" text-anchor="end" fill="#e1e1e1" stroke="#e1e1e1" stroke-width="2.4" stroke-linejoin="round">24,74</text>
<text transform="translate(730.46 342.40) scale(1.0000 1)" font-size="15.2" font-weight="bold" text-anchor="end" stroke="#000" stroke-width="0.25">24,74</text>
</svg>
</body></html>
